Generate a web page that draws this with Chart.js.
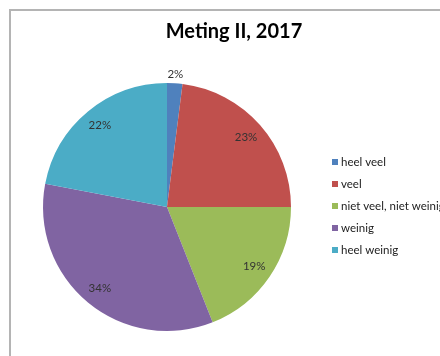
<!DOCTYPE html>
<html><head><meta charset="utf-8">
<script src="https://cdn.jsdelivr.net/npm/chart.js@4"></script>
<style>html,body{margin:0;padding:0;background:#fff;overflow:hidden}
#wrap{position:relative;width:440px;height:356px}</style>
</head><body><div id="wrap"><canvas id="c" width="440" height="356"></canvas></div>
<script>
const categories = ['heel veel', 'veel', 'niet veel, niet weinig', 'weinig', 'heel weinig'];
const values = [2, 23, 19, 34, 22];
const colors = ['#4F81BD', '#C0504D', '#9BBB59', '#8064A2', '#4BACC6'];
const chartTitle = 'Meting II, 2017';

const decor = {
  id: 'decor',
  afterDraw(chart) {
    const ctx = chart.ctx;
    ctx.save();
    // frame
    ctx.strokeStyle = '#b4b4b4';
    ctx.lineWidth = 2;
    ctx.beginPath();
    ctx.moveTo(10, 356); ctx.lineTo(10, 10); ctx.lineTo(440, 10);
    ctx.stroke();
    // title
    ctx.fillStyle = '#000';
    ctx.font = 'bold 20px Lato';
    ctx.textAlign = 'center';
    ctx.textBaseline = 'middle';
    ctx.fillText(chartTitle, 234, 32);
    // data labels
    const meta = chart.getDatasetMeta(0);
    const total = values.reduce((a, b) => a + b, 0);
    ctx.font = '11.5px Lato';
    ctx.fillStyle = '#333';
    meta.data.forEach((arc, i) => {
      const p = arc.getProps(['x', 'y', 'startAngle', 'endAngle', 'outerRadius'], true);
      const mid = (p.startAngle + p.endAngle) / 2;
      const frac = values[i] / total;
      const r = frac < 0.05 ? p.outerRadius + 9 : p.outerRadius * 0.85;
      ctx.fillText(Math.round(frac * 100) + '%', p.x + Math.cos(mid) * r, p.y + Math.sin(mid) * r);
    });
    // legend
    ctx.textAlign = 'left';
    ctx.font = '11.5px Lato';
    categories.forEach((c, i) => {
      const y = 162 + i * 22;
      ctx.fillStyle = colors[i];
      ctx.fillRect(332, y - 3, 6, 6);
      ctx.fillStyle = '#222';
      ctx.fillText(c, 341, y);
    });
    ctx.restore();
  }
};

new Chart(document.getElementById('c'), {
  type: 'pie',
  data: {
    labels: categories,
    datasets: [{ data: values, backgroundColor: colors, borderWidth: 0 }]
  },
  options: {
    responsive: false,
    animation: false,
    devicePixelRatio: 1,
    layout: { padding: { left: 43, top: 83, right: 149, bottom: 25 } },
    plugins: { legend: { display: false }, title: { display: false }, tooltip: { enabled: false } }
  },
  plugins: [decor]
});
</script></body></html>
